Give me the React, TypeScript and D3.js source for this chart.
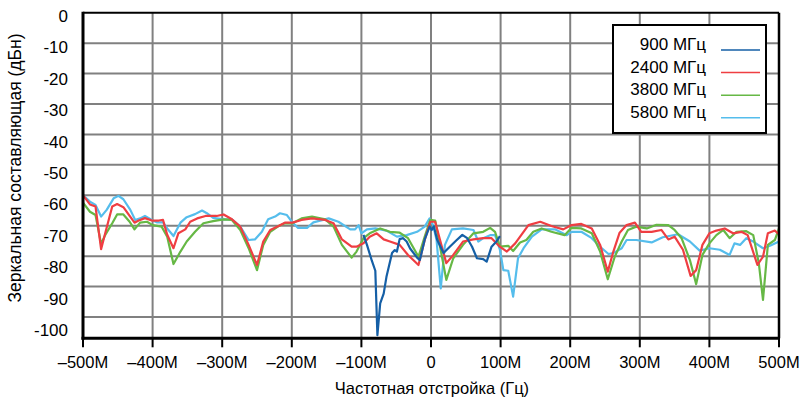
import React from 'react';
import * as d3 from 'd3';

const W = 802;
const H = 401;

// Axis ticks (frequency offset in MHz, level in dBc)
const xTicks = [-500, -400, -300, -200, -100, 0, 100, 200, 300, 400, 500];
const xTickLabels = ['–500M', '–400M', '–300M', '–200M', '–100M', '0', '100M', '200M', '300M', '400M', '500M'];
const yTicks = [0, -10, -20, -30, -40, -50, -60, -70, -80, -90, -100];
const yTickLabels = ['0', '-10', '-20', '-30', '-40', '-50', '-60', '-70', '-80', '-90', '-100'];

const seriesNames = ['900 МГц', '2400 МГц', '3800 МГц', '5800 МГц'];
const seriesColors = ['#155fa6', '#ef3e42', '#66b845', '#55bdec'];

// 900 MHz
const f900 = [-97, -92, -85, -80, -77, -73, -68, -64, -56, -52, -49, -45, -40, -35, -30, -20, -16, -9, -2, 1, 4, 9, 18, 27, 37, 45, 52, 59, 66, 75, 80, 87, 94, 99];
const v900 = [-73, -76.3, -81.5, -84.8, -106, -95.5, -92.3, -86.8, -79, -78, -78.5, -74.4, -74.1, -75.2, -77.5, -80.5, -81.3, -74.5, -70.3, -71.4, -70.2, -74.7, -79, -76.9, -74.7, -73, -74.1, -76.9, -80.7, -81, -81.8, -76.9, -75.2, -73.4];

// 2400 MHz
const f2400 = [-500, -490, -482, -474, -468, -458, -451, -442, -433, -426, -420, -411, -401, -391, -385, -379, -370, -363, -353, -346, -336, -324, -308, -298, -286, -274, -262, -250, -241, -231, -219, -210, -199, -186, -171, -152, -140, -128, -114, -107, -97, -88, -78, -68, -59, -45, -33, -18, -9, -1, 6, 13, 22, 32, 46, 61, 75, 87, 99, 109, 121, 140, 157, 173, 190, 202, 216, 231, 243, 254, 262, 271, 281, 293, 302, 317, 331, 341, 350, 362, 373, 381, 390, 400, 410, 422, 434, 446, 455, 469, 477, 484, 494, 500];
const v2400 = [-60, -63, -63.7, -77.7, -72.4, -63.7, -62.9, -63.9, -66.8, -69, -68.3, -67.5, -68.3, -68.3, -68.1, -73, -77.4, -72.5, -71.2, -68.7, -67.6, -66.8, -66.8, -66.3, -67.9, -70.3, -76.3, -82.9, -75.2, -71.4, -70.1, -69, -69, -68.1, -67.6, -68.1, -69.2, -74.5, -76.9, -76.9, -75.8, -73.6, -72.5, -74.5, -75.2, -76.3, -79.6, -82.9, -74.7, -68.7, -68.7, -74.7, -82.3, -79.6, -75.2, -74.5, -74.1, -74.1, -76.9, -78.5, -75.8, -69.8, -68.7, -70.1, -71.2, -69.8, -69.4, -70.9, -76.3, -85.1, -78.5, -72.3, -69.8, -69, -72, -72, -71.4, -74.5, -73.6, -77.9, -86.5, -84.6, -76.3, -72.5, -71.6, -70.9, -72.5, -72, -73.1, -82.9, -80.2, -72.5, -71.6, -72.8];

// 3800 MHz
const f3800 = [-500, -490, -482, -474, -468, -458, -451, -442, -433, -426, -418, -408, -400, -387, -379, -370, -360, -351, -339, -327, -313, -298, -286, -274, -262, -250, -241, -231, -219, -210, -199, -186, -171, -152, -140, -128, -114, -107, -97, -88, -73, -59, -45, -33, -18, -9, -1, 6, 13, 22, 32, 46, 61, 75, 85, 92, 99, 111, 118, 128, 137, 147, 159, 173, 192, 202, 216, 231, 243, 254, 264, 274, 283, 295, 310, 324, 341, 350, 360, 372, 381, 390, 400, 410, 420, 429, 439, 453, 463, 471, 477, 484, 494, 500];
const v3800 = [-62.4, -65.4, -66.5, -76, -73, -69.2, -66.3, -66.3, -68.7, -71.2, -69, -68.7, -69.8, -70.3, -73.6, -82.6, -78.5, -75.2, -72, -69.2, -68.5, -67.9, -68.1, -71.4, -77.4, -84.6, -76.3, -72, -70.1, -69.2, -69.2, -67.6, -67, -67.9, -70.3, -76.3, -80.5, -78.5, -74.1, -72.5, -70.9, -72, -72.3, -74.1, -80.2, -73.6, -68.1, -68.3, -76.9, -87.8, -80.7, -76.3, -72.5, -72, -70.7, -72, -76.9, -76.6, -78.3, -75.5, -74.7, -72, -70.9, -72, -73.1, -70.7, -70.9, -72.5, -78.5, -87.6, -80.2, -75.2, -71.4, -70.3, -70.9, -69.7, -69.8, -71.4, -74.1, -81.3, -89.2, -79.6, -75.8, -73.1, -71.4, -74.1, -72, -71.8, -73.1, -82.3, -94.4, -76.3, -74.7, -70.9];

// 5800 MHz
const f5800 = [-500, -490, -482, -474, -466, -456, -449, -442, -432, -425, -418, -411, -401, -394, -385, -379, -370, -360, -351, -339, -329, -322, -313, -298, -286, -274, -262, -253, -243, -234, -224, -217, -207, -199, -191, -178, -169, -147, -133, -116, -109, -104, -100, -92, -80, -64, -49, -35, -20, -9, -2, 3, 8, 14, 20, 30, 46, 61, 68, 75, 85, 92, 99, 104, 111, 118, 125, 133, 145, 159, 178, 195, 202, 216, 231, 243, 255, 262, 274, 281, 295, 317, 333, 355, 372, 386, 400, 415, 429, 436, 444, 453, 463, 477, 487, 500];
const v5800 = [-60, -62.1, -63.2, -67, -64.8, -61, -60.2, -61.3, -64.8, -68.1, -67.6, -66.8, -68.1, -68.9, -68.9, -70.9, -73.4, -69, -67.2, -66.2, -65, -65.9, -67.4, -67.9, -67.9, -70.3, -74.7, -74.5, -72, -67.9, -67, -65.9, -66.5, -69, -70.7, -70.7, -68.9, -67.6, -68.7, -71.2, -71.2, -69.8, -72.5, -71.2, -70.9, -71.6, -73.6, -73.1, -72, -70.3, -67.6, -69.8, -74.7, -90.6, -76.3, -71.2, -70.9, -71.4, -75.2, -74.1, -73.1, -73.1, -77.9, -84.6, -84.8, -93.3, -80.7, -77.4, -73.6, -71.2, -71.2, -73.1, -72, -72, -74.1, -76.9, -79.3, -79, -77.4, -74.7, -74.7, -75.5, -73.8, -72.8, -75.2, -78.2, -77.4, -77.9, -79.6, -75.8, -76.3, -74.1, -75.2, -77.4, -76.6, -75.2];

const seriesFreqs = [f900, f2400, f3800, f5800];
const seriesValues = [v900, v2400, v3800, v5800];
// back-to-front drawing order
const drawOrder = [3, 2, 1, 0];

const plotLeft = 83;
const plotRight = 779;
const plotTop = 12.7;
const plotBottom = 338.3;
const yBottom = -107;

const font = '"Liberation Sans", Arial, sans-serif';

export default function App() {
  const x = d3.scaleLinear().domain([-500, 500]).range([plotLeft, plotRight]);
  const y = d3.scaleLinear().domain([0, yBottom]).range([plotTop, plotBottom]);
  // tick labels sit on a slightly stretched scale
  const yLab = d3.scaleLinear().domain([0, -100]).range([16, 330]);

  const line = d3
    .line<[number, number]>()
    .x((d) => x(d[0]))
    .y((d) => y(d[1]));

  const legendX = 613;
  const legendY = 25;
  const legendW = 153;
  const legendH = 108;

  return (
    <svg
      width={W}
      height={H}
      style={{ position: 'absolute', left: 0, top: 0, background: '#fff' }}
      fontFamily={font}
    >
      <defs>
        <clipPath id="plot-clip">
          <rect x={plotLeft} y={plotTop} width={plotRight - plotLeft} height={plotBottom - plotTop} />
        </clipPath>
      </defs>
      <rect x={0} y={0} width={W} height={H} fill="#fff" />

      {/* grid */}
      {yTicks.slice(1).map((t) => (
        <line key={'gy' + t} x1={plotLeft} x2={plotRight} y1={y(t)} y2={y(t)} stroke="#808080" strokeWidth={2} />
      ))}
      {xTicks.slice(1, -1).map((t) => (
        <line key={'gx' + t} x1={x(t)} x2={x(t)} y1={plotTop} y2={plotBottom} stroke="#808080" strokeWidth={2} />
      ))}

      {/* series */}
      <g clipPath="url(#plot-clip)">
        {drawOrder.map((i) => {
          const pts: [number, number][] = seriesFreqs[i].map((f, k) => [f, seriesValues[i][k]]);
          return (
            <path
              key={'s' + i}
              d={line(pts) || ''}
              fill="none"
              stroke={seriesColors[i]}
              strokeWidth={2.2}
              strokeLinejoin="round"
            />
          );
        })}
      </g>

      {/* frame */}
      <line x1={plotLeft} x2={plotRight} y1={plotTop} y2={plotTop} stroke="#000" strokeWidth={2} />
      <line x1={plotRight} x2={plotRight} y1={plotTop} y2={plotBottom} stroke="#000" strokeWidth={2.5} />
      <line x1={plotLeft} x2={plotLeft} y1={plotTop - 1} y2={plotBottom + 1.5} stroke="#000" strokeWidth={3} />
      <line x1={plotLeft - 1.5} x2={plotRight + 1} y1={plotBottom} y2={plotBottom} stroke="#000" strokeWidth={3} />

      {/* x ticks */}
      {xTicks.map((t, i) => (
        <g key={'xt' + t}>
          <line x1={x(t)} x2={x(t)} y1={plotBottom} y2={plotBottom + 9} stroke="#000" strokeWidth={2} />
          <text x={x(t)} y={368} textAnchor="middle" fontSize={16.5} fill="#000">
            {xTickLabels[i]}
          </text>
        </g>
      ))}

      {/* y tick labels */}
      {yTicks.map((t, i) => (
        <text key={'yt' + t} x={68} y={yLab(t)} dy="0.35em" textAnchor="end" fontSize={17} fill="#000">
          {yTickLabels[i]}
        </text>
      ))}

      {/* axis titles */}
      <text x={432} y={394} textAnchor="middle" fontSize={16.5} fill="#000">
        Частотная отстройка (Гц)
      </text>
      <text
        transform={`translate(21, ${168}) rotate(-90)`}
        textAnchor="middle"
        fontSize={17.5}
        fill="#000"
      >
        Зеркальная составляющая (дБн)
      </text>

      {/* legend */}
      <rect x={legendX} y={legendY} width={legendW} height={legendH} fill="#fff" stroke="#000" strokeWidth={2} />
      {seriesNames.map((name, i) => {
        const ly = 50 + i * 22.6;
        return (
          <g key={'lg' + i}>
            <text x={706} y={ly} textAnchor="end" fontSize={17} fill="#000">
              {name}
            </text>
            <line x1={721} x2={760} y1={ly} y2={ly} stroke={seriesColors[i]} strokeWidth={1.5} />
          </g>
        );
      })}
    </svg>
  );
}
